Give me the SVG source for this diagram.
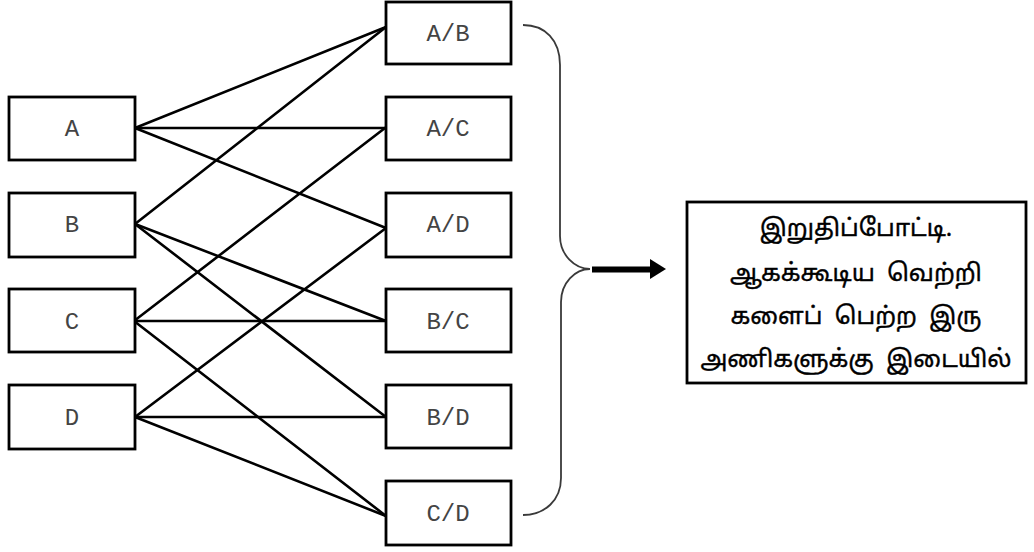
<svg xmlns="http://www.w3.org/2000/svg" width="1034" height="552" viewBox="0 0 1034 552">
  <style>
    .box { fill: #fff; stroke: #000; stroke-width: 2.8; }
    .lbl { font-family: "Liberation Mono", "Courier New", monospace; font-size: 24px; fill: #444; text-anchor: middle; }
    .edge { stroke: #000; stroke-width: 2.6; fill: none; stroke-linecap: round; }
    .brace { stroke: #3a3a3a; stroke-width: 1.8; fill: none; }
    .ta { font-family: "Noto Sans Tamil", "Lohit Tamil", "Latha", "Noto Sans", sans-serif; font-size: 24px; fill: #000; stroke: #000; stroke-width: 0.4; text-anchor: middle; white-space: pre; }
  </style>

  <!-- pairings between teams and matches -->
  <g id="connectors">
    <line class="edge" x1="135" y1="128" x2="386" y2="27"/>
    <line class="edge" x1="135" y1="128" x2="385" y2="128"/>
    <line class="edge" x1="135" y1="128" x2="386" y2="228"/>
    <line class="edge" x1="135" y1="224" x2="386" y2="27"/>
    <line class="edge" x1="135" y1="224" x2="386" y2="321"/>
    <line class="edge" x1="135" y1="224" x2="386" y2="417"/>
    <line class="edge" x1="134" y1="321" x2="385" y2="128"/>
    <line class="edge" x1="134" y1="321" x2="386" y2="321"/>
    <line class="edge" x1="134" y1="321" x2="386" y2="516"/>
    <line class="edge" x1="135" y1="417" x2="386" y2="228"/>
    <line class="edge" x1="135" y1="417" x2="386" y2="417"/>
    <line class="edge" x1="135" y1="417" x2="386" y2="516"/>
    <!-- brace gathering the six matches -->
    <path class="brace" d="M523,25 C545,25 560,40 560,65 L560,236 C560,255 575,269 590,269 C575,269 561,283 561,302 L561,478 C561,500 545,515 523,515"/>
    <line x1="592" y1="269.5" x2="652" y2="269.5" stroke="#000" stroke-width="6"/>
    <polygon points="650,259 666,269 650,279" fill="#000"/>
  </g>

  <!-- teams -->
  <g id="team-a"><rect class="box" x="9" y="97" width="126" height="63"/><text class="lbl" x="72" y="136">A</text></g>
  <g id="team-b"><rect class="box" x="9" y="193" width="126" height="64"/><text class="lbl" x="72" y="232">B</text></g>
  <g id="team-c"><rect class="box" x="9" y="289" width="126" height="63"/><text class="lbl" x="72" y="329">C</text></g>
  <g id="team-d"><rect class="box" x="9" y="385" width="126" height="64"/><text class="lbl" x="72" y="425">D</text></g>

  <!-- matches -->
  <g id="match-ab"><rect class="box" x="386" y="2" width="125" height="62"/><text class="lbl" x="448" y="41">A/B</text></g>
  <g id="match-ac"><rect class="box" x="386" y="97" width="125" height="63"/><text class="lbl" x="448" y="136">A/C</text></g>
  <g id="match-ad"><rect class="box" x="386" y="193" width="125" height="64"/><text class="lbl" x="448" y="232">A/D</text></g>
  <g id="match-bc"><rect class="box" x="386" y="289" width="125" height="63"/><text class="lbl" x="448" y="329">B/C</text></g>
  <g id="match-bd"><rect class="box" x="386" y="385" width="125" height="63"/><text class="lbl" x="448" y="425">B/D</text></g>
  <g id="match-cd"><rect class="box" x="386" y="481" width="125" height="64"/><text class="lbl" x="448" y="521">C/D</text></g>

  <!-- final -->
  <g id="final">
    <rect class="box" x="687" y="202" width="339" height="181"/>
    <text class="ta" x="856" y="236">இறுதிப்போட்டி.</text>
    <text class="ta" x="856" y="281">ஆகக்கூடிய  வெற்றி</text>
    <text class="ta" x="856" y="324">களைப்  பெற்ற  இரு</text>
    <text class="ta" x="856" y="367">அணிகளுக்கு  இடையில்</text>
  </g>
</svg>
